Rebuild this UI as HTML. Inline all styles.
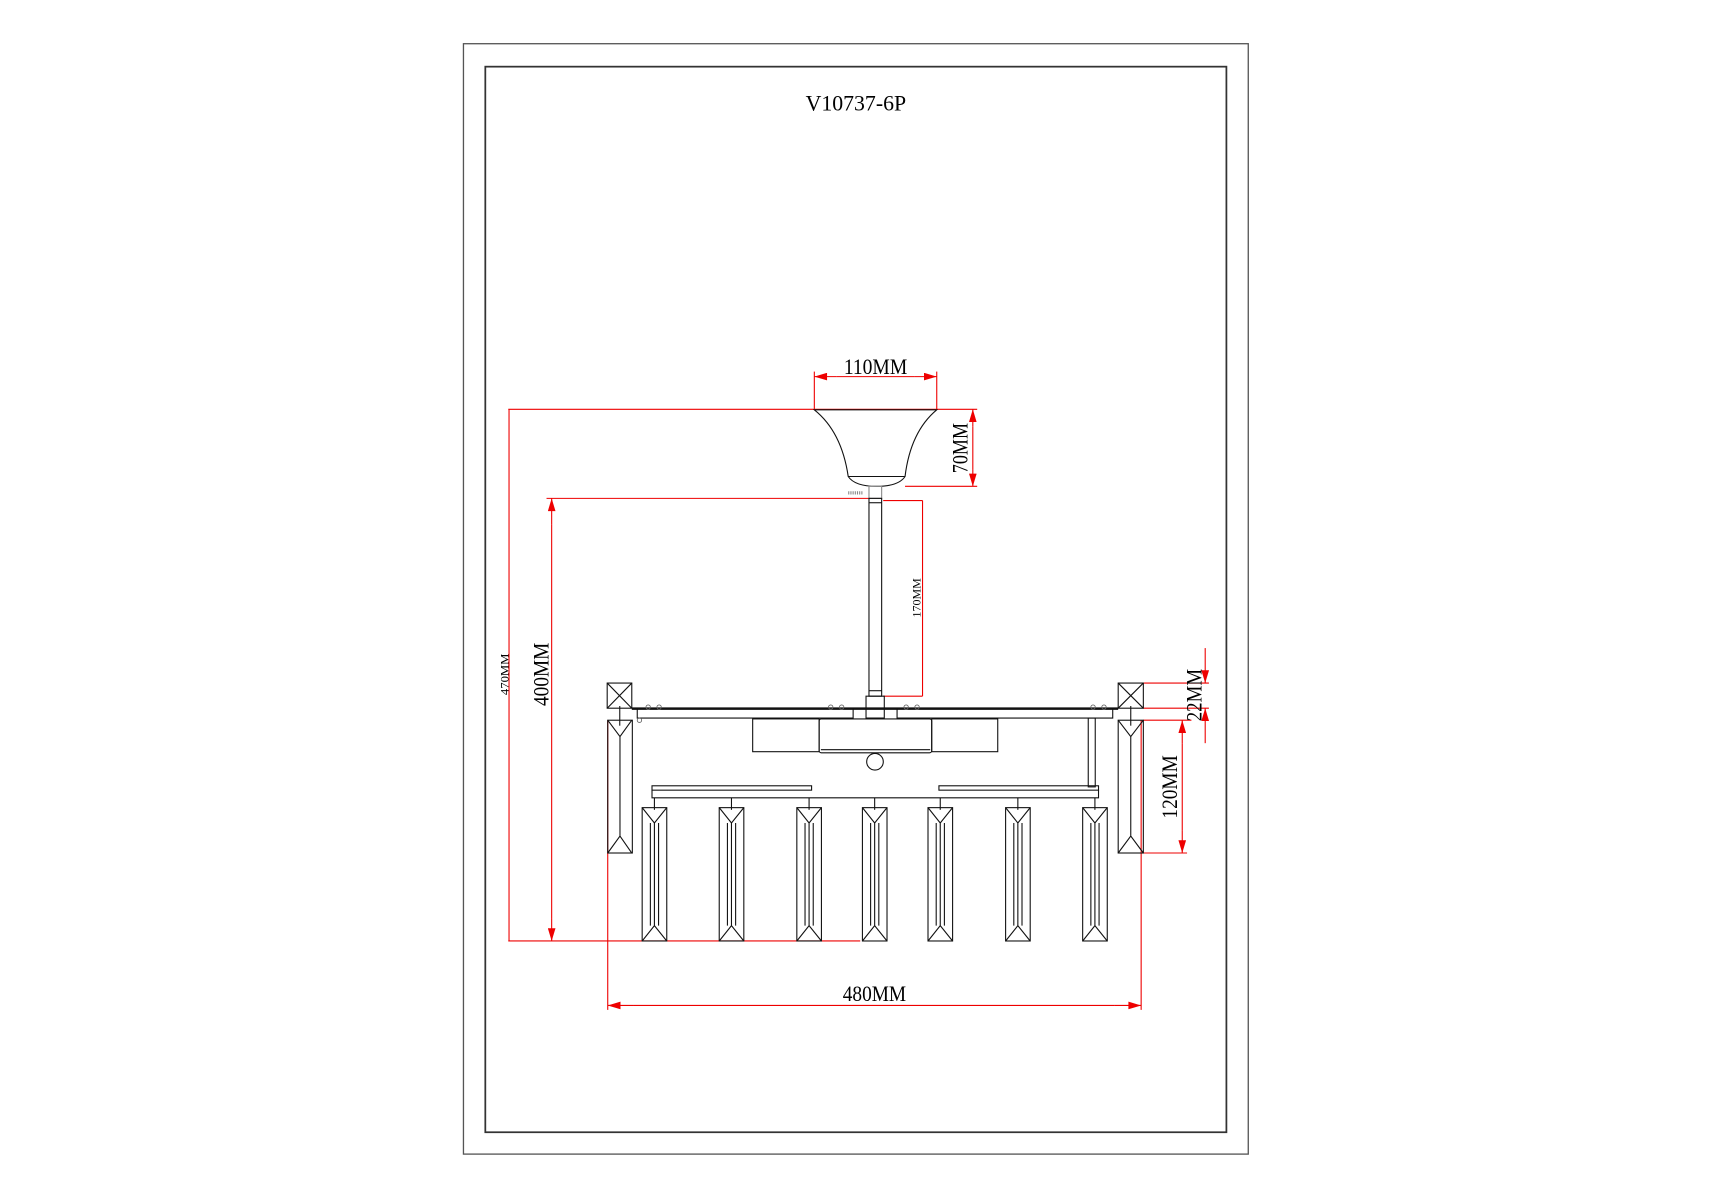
<!DOCTYPE html>
<html><head><meta charset="utf-8"><style>
html,body{margin:0;padding:0;background:#fff;}
svg{display:block;}
text{font-family:"Liberation Serif",serif;}
</style></head><body>
<svg width="1715" height="1200" viewBox="0 0 1569 1098" preserveAspectRatio="none" xmlns="http://www.w3.org/2000/svg">
<defs>
<marker id="a" viewBox="0 0 10 6" refX="10" refY="3" markerWidth="10" markerHeight="6" markerUnits="userSpaceOnUse" orient="auto"><path d="M0,0 L10,3 L0,6 Z" fill="#e00"/></marker>
<marker id="s" viewBox="0 0 10 6" refX="10" refY="3" markerWidth="18" markerHeight="7" markerUnits="userSpaceOnUse" orient="auto"><path d="M0,0 L10,3 L0,6 Z" fill="#e00"/></marker>
</defs>
<rect x="0" y="0" width="1569" height="1098" fill="#fff"/>
<!-- frames -->
<rect x="424" y="40" width="718" height="1016" fill="none" stroke="#555" stroke-width="1.2"/>
<rect x="444" y="61" width="678" height="975" fill="none" stroke="#333" stroke-width="1.6"/>
<text x="783" y="101" font-size="20" text-anchor="middle" textLength="92" lengthAdjust="spacingAndGlyphs">V10737-6P</text>

<g fill="none" stroke="#e00" stroke-width="1">
<!-- 110MM -->
<line x1="745" y1="340" x2="745" y2="375"/>
<line x1="857" y1="340" x2="857" y2="375"/>
<line x1="765" y1="344.6" x2="745" y2="344.6" marker-end="url(#s)"/>
<line x1="837" y1="344.6" x2="857" y2="344.6" marker-end="url(#s)"/>
<line x1="765" y1="344.6" x2="837" y2="344.6"/>
<!-- 470 top line -->
<line x1="465" y1="374.5" x2="894" y2="374.5"/>
<!-- 70MM -->
<line x1="828" y1="445" x2="894" y2="445"/>
<line x1="890" y1="390" x2="890" y2="374.5" marker-end="url(#s)"/>
<line x1="890" y1="430" x2="890" y2="445" marker-end="url(#s)"/>
<line x1="890" y1="390" x2="890" y2="430"/>
<!-- 400 top line -->
<line x1="500" y1="456" x2="796" y2="456"/>
<!-- 170MM -->
<line x1="808" y1="458" x2="844" y2="458"/>
<line x1="808" y1="637" x2="844" y2="637"/>
<line x1="844" y1="458" x2="844" y2="637"/>
<!-- 470 vertical -->
<line x1="465.7" y1="374.5" x2="465.7" y2="861"/>
<!-- 400 vertical -->
<line x1="504.7" y1="480" x2="504.7" y2="456" marker-end="url(#s)"/>
<line x1="504.7" y1="840" x2="504.7" y2="861" marker-end="url(#s)"/>
<line x1="504.7" y1="480" x2="504.7" y2="840"/>
<line x1="465" y1="861" x2="787" y2="861"/>
<!-- 480MM -->
<line x1="556" y1="659" x2="556" y2="924"/>
<line x1="1044" y1="659" x2="1044" y2="924"/>
<line x1="580" y1="920" x2="556" y2="920" marker-end="url(#s)"/>
<line x1="1020" y1="920" x2="1044" y2="920" marker-end="url(#s)"/>
<line x1="580" y1="920" x2="1020" y2="920"/>
<!-- 22MM -->
<line x1="1046" y1="625" x2="1106" y2="625"/>
<line x1="1046" y1="648" x2="1106" y2="648"/>
<line x1="1046" y1="659" x2="1090" y2="659"/>
<line x1="1102.6" y1="593" x2="1102.6" y2="625" marker-end="url(#s)"/>
<line x1="1102.6" y1="680" x2="1102.6" y2="648" marker-end="url(#s)"/>
<!-- 120MM -->
<line x1="1046" y1="780.5" x2="1086" y2="780.5"/>
<line x1="1081.6" y1="680" x2="1081.6" y2="659" marker-end="url(#s)"/>
<line x1="1081.6" y1="760" x2="1081.6" y2="780.5" marker-end="url(#s)"/>
<line x1="1081.6" y1="680" x2="1081.6" y2="760"/>
</g>

<g fill="#000">
<text x="801" y="342" font-size="20" text-anchor="middle" textLength="58" lengthAdjust="spacingAndGlyphs">110MM</text>
<text transform="translate(885,410) rotate(-90)" font-size="20" text-anchor="middle" textLength="46" lengthAdjust="spacingAndGlyphs">70MM</text>
<text transform="translate(842,547) rotate(-90)" font-size="11" text-anchor="middle" textLength="36" lengthAdjust="spacingAndGlyphs">170MM</text>
<text transform="translate(465,617) rotate(-90)" font-size="11" text-anchor="middle" textLength="38" lengthAdjust="spacingAndGlyphs">470MM</text>
<text transform="translate(502,617) rotate(-90)" font-size="20" text-anchor="middle" textLength="58" lengthAdjust="spacingAndGlyphs">400MM</text>
<text x="800" y="916" font-size="20" text-anchor="middle" textLength="58" lengthAdjust="spacingAndGlyphs">480MM</text>
<text transform="translate(1099,636) rotate(-90)" font-size="20" text-anchor="middle" textLength="48" lengthAdjust="spacingAndGlyphs">22MM</text>
<text transform="translate(1077,720) rotate(-90)" font-size="20" text-anchor="middle" textLength="58" lengthAdjust="spacingAndGlyphs">120MM</text>
</g>

<g fill="none" stroke="#111" stroke-width="1">
<!-- canopy -->
<path d="M745,375 L857,375 Q833,395 828,436 Q822,445 802,445 Q782,445 776,436 Q770,395 745,375 Z"/>
<line x1="776" y1="436" x2="828" y2="436"/>
<rect x="795" y="445" width="11.6" height="11" stroke="#888"/>
<line x1="776" y1="451" x2="790" y2="451" stroke="#888" stroke-width="3" stroke-dasharray="1,1"/>
<!-- stem -->
<rect x="795" y="456" width="11.6" height="181"/>
<line x1="795" y1="460" x2="806.6" y2="460"/>
<line x1="795" y1="632" x2="806.6" y2="632"/>
<!-- hub -->
<rect x="792.3" y="637" width="16.7" height="20"/>
<!-- main bar -->
<line x1="578" y1="648.4" x2="1023" y2="648.4" stroke-width="2.2"/>
<path d="M583,648.4 V657 H780.5 V648.4"/>
<path d="M820.7,648.4 V657 H1018 V648.4"/>
<!-- X boxes -->
<rect x="555.5" y="625" width="22.5" height="23"/>
<line x1="555.5" y1="625" x2="578" y2="648"/><line x1="578" y1="625" x2="555.5" y2="648"/>
<rect x="1023" y="625" width="23" height="23"/>
<line x1="1023" y1="625" x2="1046" y2="648"/><line x1="1046" y1="625" x2="1023" y2="648"/>
<line x1="567" y1="646" x2="567" y2="664"/>
<line x1="1034.5" y1="646" x2="1034.5" y2="664"/>
<!-- lamp boxes -->
<rect x="688.6" y="657.8" width="60.8" height="30"/>
<rect x="749.4" y="657.8" width="103" height="31" rx="2"/>
<line x1="751" y1="686" x2="851" y2="686"/>
<rect x="852.4" y="657.8" width="60.4" height="30"/>
<circle cx="800.5" cy="697" r="7.6"/>
<!-- small rings -->
<g stroke="#666" stroke-width="0.8">
<circle cx="593" cy="647" r="2"/><circle cx="603" cy="647" r="2"/><circle cx="585" cy="659" r="2"/>
<circle cx="760" cy="647" r="2"/><circle cx="770" cy="647" r="2"/>
<circle cx="829" cy="647" r="2"/><circle cx="839" cy="647" r="2"/>
<circle cx="1000" cy="647" r="2"/><circle cx="1010" cy="647" r="2"/>
</g>
<!-- rod -->
<rect x="995.6" y="657" width="6.4" height="63"/>
<!-- lower frame -->
<rect x="596.5" y="719" width="146" height="4"/>
<rect x="859" y="719" width="146" height="4"/>
<path d="M596.5,723 V730 H1005 V723"/>
<!-- side pendants -->
<g id="sp">
<rect x="556" y="659" width="22.5" height="121.5"/>
<path d="M556,659 L567.2,674 L578,659 M567.2,674 V765 M556,780.5 L567.2,765 L578,780.5"/>
</g>
<g>
<rect x="1023" y="659" width="23" height="121.5"/>
<path d="M1023,659 L1034.5,674 L1046,659 M1034.5,674 V765 M1023,780.5 L1034.5,765 L1046,780.5"/>
</g>
<!-- lower pendants -->
<g id="p">
<rect x="587.5" y="739" width="22.5" height="122"/>
<path d="M587.5,739 L598.7,753 L610,739 M595,753 V847 M602.5,753 V847 M598.7,753 V847 M587.5,861 L598.7,847 L610,861"/>
<line x1="598.7" y1="730" x2="598.7" y2="741"/>
</g>
<use href="#p" x="70.5"/>
<use href="#p" x="141.5"/>
<use href="#p" x="201.5"/>
<use href="#p" x="261.5"/>
<use href="#p" x="332.5"/>
<use href="#p" x="403"/>
</g>
</svg>
</body></html>
